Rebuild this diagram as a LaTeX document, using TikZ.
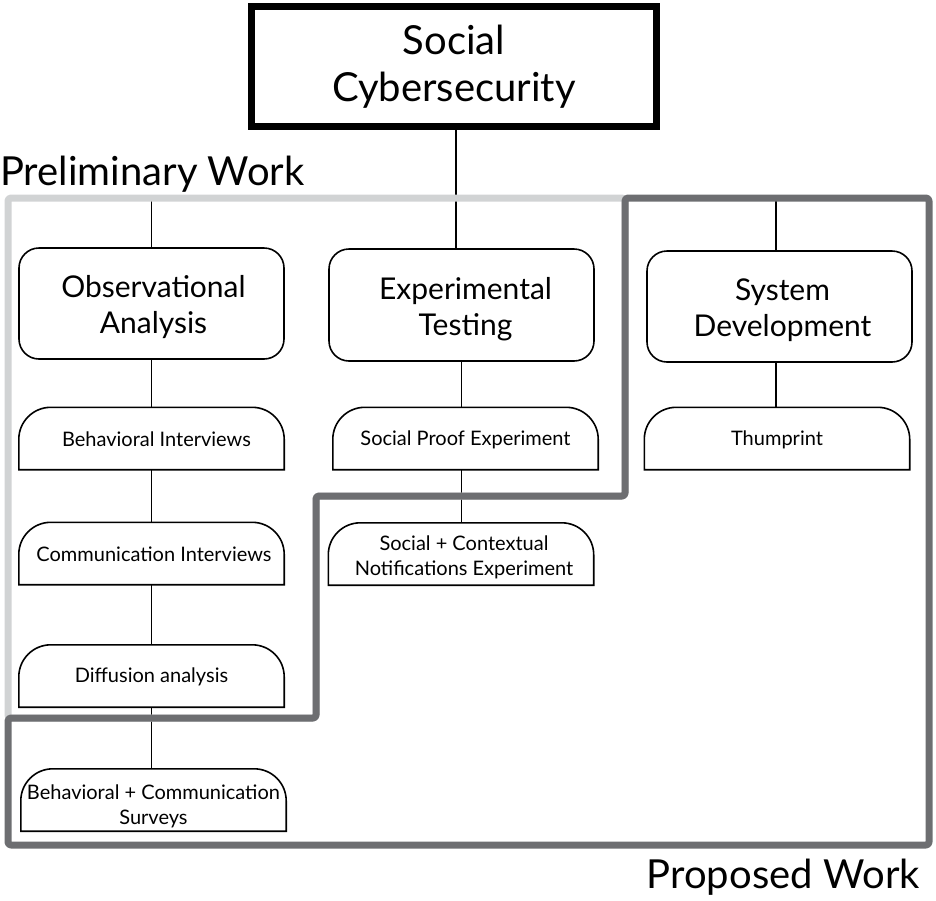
\documentclass[tikz,border=0pt]{standalone}
\usepackage{fontspec}
\setmainfont{Lato}
\definecolor{lightframe}{HTML}{D1D3D4}
\definecolor{darkframe}{HTML}{6D6E71}
\newcommand\tabshape[1]{\draw[subline] (#1.south west) -- ([yshift=-32pt]#1.north west) arc[start angle=180,end angle=90,radius=32pt] -- ([xshift=-32pt]#1.north east) arc[start angle=90,end angle=0,radius=32pt] -- (#1.south east) -- cycle;}
\tikzset{
  topbox/.style={draw=black, line width=7pt, minimum width=405pt, minimum height=120pt, align=center, inner sep=0pt, font=\fontsize{40}{47}\selectfont},
  mainbox/.style={draw=black, line width=1.6pt, rounded corners=20pt, minimum width=265pt, minimum height=111pt, inner sep=0pt},
  maintext/.style={align=center, inner sep=0pt, font=\fontsize{30}{36}\selectfont, yshift=-4pt, xshift=3pt},
  subbox/.style={minimum width=265pt, minimum height=62pt, inner sep=0pt},
  subtext/.style={align=center, inner sep=0pt, font=\fontsize{20}{25}\selectfont, yshift=-1pt},
  subline/.style={draw=black, line width=1.6pt},
  conn/.style={draw=black, line width=1.3pt},
  framelabel/.style={inner sep=0pt, font=\fontsize{40}{48}\selectfont},
  frameline/.style={line width=7pt, rounded corners=3pt, line join=round}
}
\begin{document}
\begin{tikzpicture}[x=1pt,y=1pt]
\useasboundingbox (0,0) rectangle (936,-900);
% nodes
\node[topbox] (top) at (454,-66.5) {Social\\Cybersecurity};
\node[mainbox, label={[maintext, xshift=-1pt]center:{Observational\\Analysis}}] (obs) at (151.5,-303.5) {};
\node[mainbox, minimum height=112pt, label={[maintext, xshift=1pt]center:{Experimental\\Testing}}] (exp) at (461.5,-305) {};
\node[mainbox, label={[maintext]center:{System\\Development}}] (sys) at (779.5,-306.5) {};
\node[subbox, label={[subtext, xshift=5pt]center:{Behavioral Interviews}}] (bi) at (151.5,-438.5) {};
\node[subbox, label={[subtext, xshift=2.5pt]center:{Communication Interviews}}] (ci) at (151.5,-553.5) {};
\node[subbox, label={[subtext]center:{Diffusion analysis}}] (da) at (151.5,-676) {};
\node[subbox, label={[subtext, yshift=-5pt]center:{Behavioral + Communication\\Surveys}}] (bcs) at (153.5,-800) {};
\node[subbox, label={[subtext]center:{Social Proof Experiment}}] (spe) at (465.5,-438.5) {};
\node[subbox, label={[subtext, yshift=-2pt, xshift=3pt]center:{Social + Contextual\\Notifications Experiment}}] (scn) at (461,-554) {};
\node[subbox, label={[subtext]center:{Thumprint}}] (thu) at (777,-438.5) {};
\foreach \n in {bi,ci,da,bcs,spe,scn,thu} {\tabshape{\n}}
% frame points for free connector ends
\coordinate (f1) at (151.5,-198);
\coordinate (f3) at (776,-198);
% connectors
\draw[conn] ([xshift=2pt]top.south) -- ([xshift=2pt]top.south |- exp.north);
\draw[conn] (f1) -- (f1 |- obs.north);
\draw[conn] (f3) -- (f3 |- sys.north);
\draw[conn] (obs.south) -- (obs.south |- bi.north);
\draw[conn] (bi.south) -- (bi.south |- ci.north);
\draw[conn] (ci.south) -- (ci.south |- da.north);
\draw[conn] (da.south) -- (da.south |- bcs.north);
\draw[conn] ([xshift=-4pt]spe.south) -- ([xshift=-4pt]spe.south |- scn.north);
\draw[conn] (exp.south) -- (exp.south |- spe.north);
\draw[conn] ([xshift=-3.5pt]sys.south) -- ([xshift=-3.5pt]sys.south |- thu.north);
% frames
\draw[frameline, draw=lightframe] (8,-198) -- (625,-198) -- (625,-496) -- (316,-496) -- (316,-718) -- (8,-718) -- cycle;
\draw[frameline, draw=darkframe] (625,-198) -- (929,-198) -- (929,-845) -- (8,-845) -- (8,-718) -- (316,-718) -- (316,-496) -- (625,-496) -- cycle;
% labels
\node[framelabel, anchor=base west] (prelim) at (0,-185) {Preliminary Work};
\node[framelabel, anchor=base east] (prop) at (920,-888) {Proposed Work};
\end{tikzpicture}
\end{document}
